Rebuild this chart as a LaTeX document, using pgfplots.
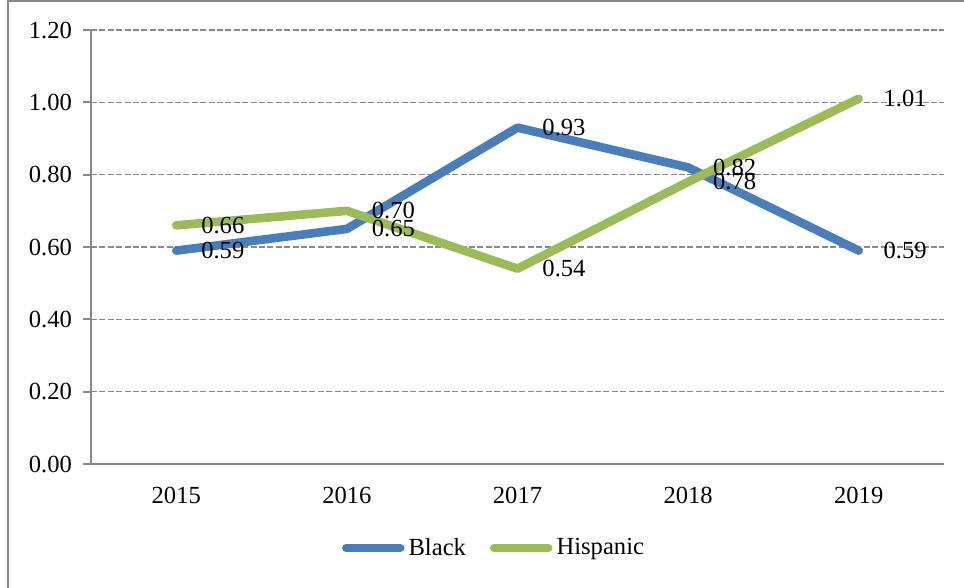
\documentclass[border=0pt]{standalone}
\usepackage{pgfplots}
\pgfplotsset{compat=1.18}
\usepackage{fontspec}
\setmainfont{Liberation Serif}
\definecolor{cblue}{HTML}{4A7EBB}
\definecolor{cgreen}{HTML}{9BBB59}
\definecolor{cgrid}{HTML}{888888}
\begin{document}
\begin{tikzpicture}
\useasboundingbox (-45.5pt,-62pt) rectangle (436.5pt,232pt);
\draw[cgrid, line width=1pt] (-41.5pt,-62pt) -- (-41.5pt,231.5pt) -- (436.5pt,231.5pt);
\begin{axis}[
  at={(0pt,0pt)}, anchor=south west,
  scale only axis,
  width=426.5pt, height=217pt,
  xmin=-0.5, xmax=4.5,
  ymin=0, ymax=1.2,
  axis lines=left,
  axis line style={cgrid, line width=1pt, -},
  xtick={0,1,2,3,4},
  xticklabels={2015,2016,2017,2018,2019},
  extra x ticks={-0.5,0.5,1.5,2.5,3.5,4.5},
  extra x tick labels={},
  extra x tick style={major tick length=4pt, tick style={cgrid, line width=1pt}, grid=none},
  x tick style={draw=none},
  ytick={0,0.2,0.4,0.6,0.8,1.0,1.2},
  y tick style={cgrid, line width=1pt},
  tick align=outside,
  major tick length=4pt,
  yticklabel={\pgfmathprintnumber[fixed,fixed zerofill,precision=2,assume math mode=true]{\tick}},
  ymajorgrids,
  grid style={cgrid, line width=0.75pt, dash pattern=on 3pt off 1.2pt},
  tick label style={font=\fontsize{12.3}{14}\selectfont, text=black},
  xticklabel style={yshift=-4pt},
  yticklabel style={xshift=-2pt},
  clip=false,
  legend style={at={(202pt,-42pt)}, anchor=center, draw=none, fill=none,
    legend columns=2, font=\fontsize{12.3}{14}\selectfont,
    /tikz/every even column/.append style={column sep=10pt}},
  legend image code/.code={\draw[#1, line cap=round] (0pt,0pt) -- (27pt,0pt);},
  nodes near coords={\pgfmathprintnumber[fixed,fixed zerofill,precision=2,assume math mode=true]{\pgfplotspointmeta}},
  every node near coord/.append style={anchor=west, xshift=7pt, font=\fontsize{12.3}{14}\selectfont, text=black},
  point meta=explicit,
]
\addplot[cblue, line width=4.3pt, line join=round, line cap=round] coordinates {
  (0,0.59) [0.59] (1,0.65) [0.65] (2,0.93) [0.93] (3,0.82) [0.82] (4,0.59) [0.59]};
\addlegendentry{Black}
\addplot[cgreen, line width=4.3pt, line join=round, line cap=round] coordinates {
  (0,0.66) [0.66] (1,0.70) [0.70] (2,0.54) [0.54] (3,0.78) [0.78] (4,1.01) [1.01]};
\addlegendentry{Hispanic}
\end{axis}
\end{tikzpicture}
\end{document}
